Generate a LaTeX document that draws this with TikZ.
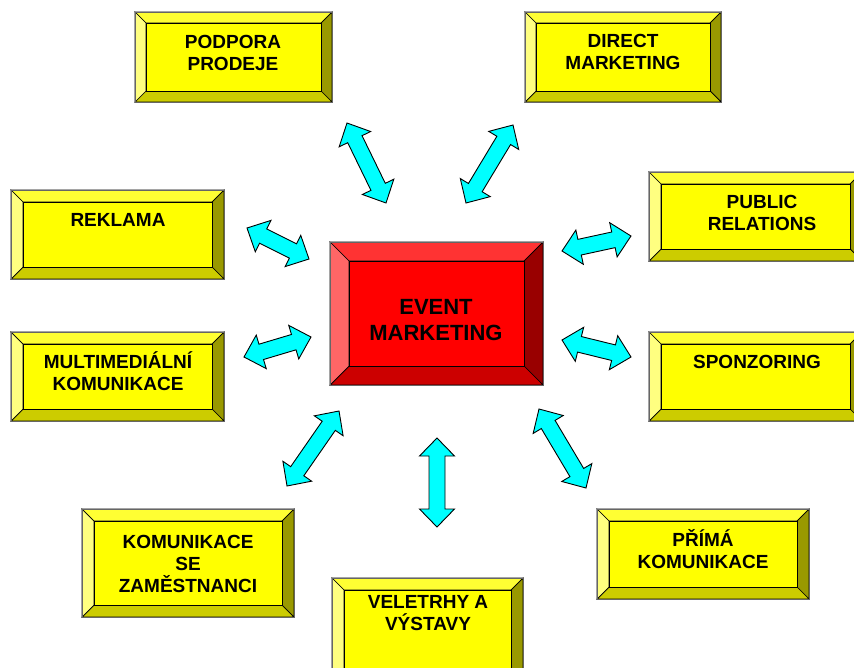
\documentclass[tikz,border=0pt]{standalone}
\usepackage{fontspec}
\setmainfont{Liberation Sans}
\usetikzlibrary{calc}
\definecolor{ytop}{HTML}{FFFF33}
\definecolor{yleft}{HTML}{FFFF80}
\definecolor{yface}{HTML}{FFFF00}
\definecolor{ybot}{HTML}{CCCC00}
\definecolor{yright}{HTML}{999900}
\definecolor{rtop}{HTML}{FF3333}
\definecolor{rleft}{HTML}{FF6666}
\definecolor{rface}{HTML}{FF0000}
\definecolor{rbot}{HTML}{CC0000}
\definecolor{rright}{HTML}{990000}
\definecolor{arrcyan}{HTML}{00FFFF}
\tikzset{
  bev/.style={draw=black, line width=0.7pt, line join=miter},
  lbl/.style={align=center, inner sep=0pt, font=\bfseries\fontsize{19}{22}\selectfont},
  biglbl/.style={align=center, inner sep=0pt, font=\bfseries\fontsize{22}{26}\selectfont},
  arr/.style={draw=black, fill=arrcyan, line width=0.9pt, line join=miter}
}
\newcommand\bevelbox[7]{%
  \coordinate (#1-a) at (#2,#3);
  \coordinate (#1-b) at (#4,#3);
  \coordinate (#1-c) at (#4,#5);
  \coordinate (#1-d) at (#2,#5);
  \coordinate (#1-A) at ({#2+#6},{#3+#6});
  \coordinate (#1-B) at ({#4-#6},{#3+#6});
  \coordinate (#1-C) at ({#4-#6},{#5-#6});
  \coordinate (#1-D) at ({#2+#6},{#5-#6});
  \filldraw[bev, fill=#7top] (#1-a) -- (#1-b) -- (#1-B) -- (#1-A) -- cycle;
  \filldraw[bev, fill=#7right] (#1-b) -- (#1-c) -- (#1-C) -- (#1-B) -- cycle;
  \filldraw[bev, fill=#7bot] (#1-c) -- (#1-d) -- (#1-D) -- (#1-C) -- cycle;
  \filldraw[bev, fill=#7left] (#1-d) -- (#1-a) -- (#1-A) -- (#1-D) -- cycle;
  \filldraw[bev, fill=#7face] (#1-A) rectangle (#1-C);
  \draw[draw=black!60, line width=0.8pt] (#1-a) rectangle (#1-c);
}
\newcommand\dblarrow[2]{%
  \filldraw[arr] (#1)
    -- ($(#1)!18pt!(#2)!17.5pt!90:(#2)$)
    -- ($(#1)!18pt!(#2)!8pt!90:(#2)$)
    -- ($(#2)!18pt!(#1)!8pt!-90:(#1)$)
    -- ($(#2)!18pt!(#1)!17.5pt!-90:(#1)$)
    -- (#2)
    -- ($(#2)!18pt!(#1)!17.5pt!90:(#1)$)
    -- ($(#2)!18pt!(#1)!8pt!90:(#1)$)
    -- ($(#1)!18pt!(#2)!8pt!-90:(#2)$)
    -- ($(#1)!18pt!(#2)!17.5pt!-90:(#2)$)
    -- cycle;
}
\begin{document}
\begin{tikzpicture}[x=1pt, y=-1pt]
\useasboundingbox (0,0) rectangle (854,667);
\clip (0,0) rectangle (854,667);
\fill[white] (0,0) rectangle (854,667);

% boxes
\bevelbox{b1}{135}{12}{332}{102}{11}{y}
\bevelbox{b2}{525}{12}{721}{102}{11}{y}
\bevelbox{b3}{11}{190}{224}{279}{12}{y}
\bevelbox{b4}{649}{172}{862}{261}{12}{y}
\bevelbox{b5}{330}{242}{543}{385}{19}{r}
\bevelbox{b6}{11}{332}{224}{421}{12}{y}
\bevelbox{b7}{649}{332}{862}{421}{12}{y}
\bevelbox{b8}{82}{509}{294}{617}{12}{y}
\bevelbox{b9}{597}{509}{809}{599}{12}{y}
\bevelbox{b10}{332}{578}{523}{682}{12}{y}

% labels
\node[lbl] (podpora) at (233,51) {\vphantom{Ý}PODPORA\\PRODEJE};
\node[lbl] (direct) at (623,50) {\vphantom{Ý}DIRECT\\MARKETING};
\node[lbl] (reklama) at (118,218) {\vphantom{Ý}REKLAMA};
\node[lbl] (public) at (762,211) {\vphantom{Ý}PUBLIC\\RELATIONS};
\node[biglbl] (event) at (436,318) {\vphantom{Ý}EVENT\\MARKETING};
\node[lbl] (multi) at (118,371) {\vphantom{Ý}MULTIMEDIÁLNÍ\\KOMUNIKACE};
\node[lbl] (sponz) at (757,360) {\vphantom{Ý}SPONZORING};
\node[lbl] (zam) at (188,562) {\vphantom{Ý}KOMUNIKACE\\SE\\ZAMĚSTNANCI};
\node[lbl] (prima) at (703,549) {\vphantom{Ý}PŘÍMÁ\\KOMUNIKACE};
\node[lbl] (vele) at (428,611) {\vphantom{Ý}VELETRHY A\\VÝSTAVY};

% arrow end points
\coordinate (a1s) at (347,123);
\coordinate (a1e) at (386,203);
\coordinate (a2s) at (513,125);
\coordinate (a2e) at (466,203);
\coordinate (a3s) at (247,228);
\coordinate (a3e) at (309,259);
\coordinate (a4s) at (562,251);
\coordinate (a4e) at (631,236);
\coordinate (a5s) at (244,357);
\coordinate (a5e) at (311,337);
\coordinate (a6s) at (562,340);
\coordinate (a6e) at (631,357);
\coordinate (a7s) at (287,486);
\coordinate (a7e) at (339,411);
\coordinate (a8s) at (437,438);
\coordinate (a8e) at (437,527);
\coordinate (a9s) at (539,409);
\coordinate (a9e) at (586,488);

\dblarrow{a1s}{a1e}
\dblarrow{a2s}{a2e}
\dblarrow{a3s}{a3e}
\dblarrow{a4s}{a4e}
\dblarrow{a5s}{a5e}
\dblarrow{a6s}{a6e}
\dblarrow{a7s}{a7e}
\dblarrow{a8s}{a8e}
\dblarrow{a9s}{a9e}
\end{tikzpicture}
\end{document}
